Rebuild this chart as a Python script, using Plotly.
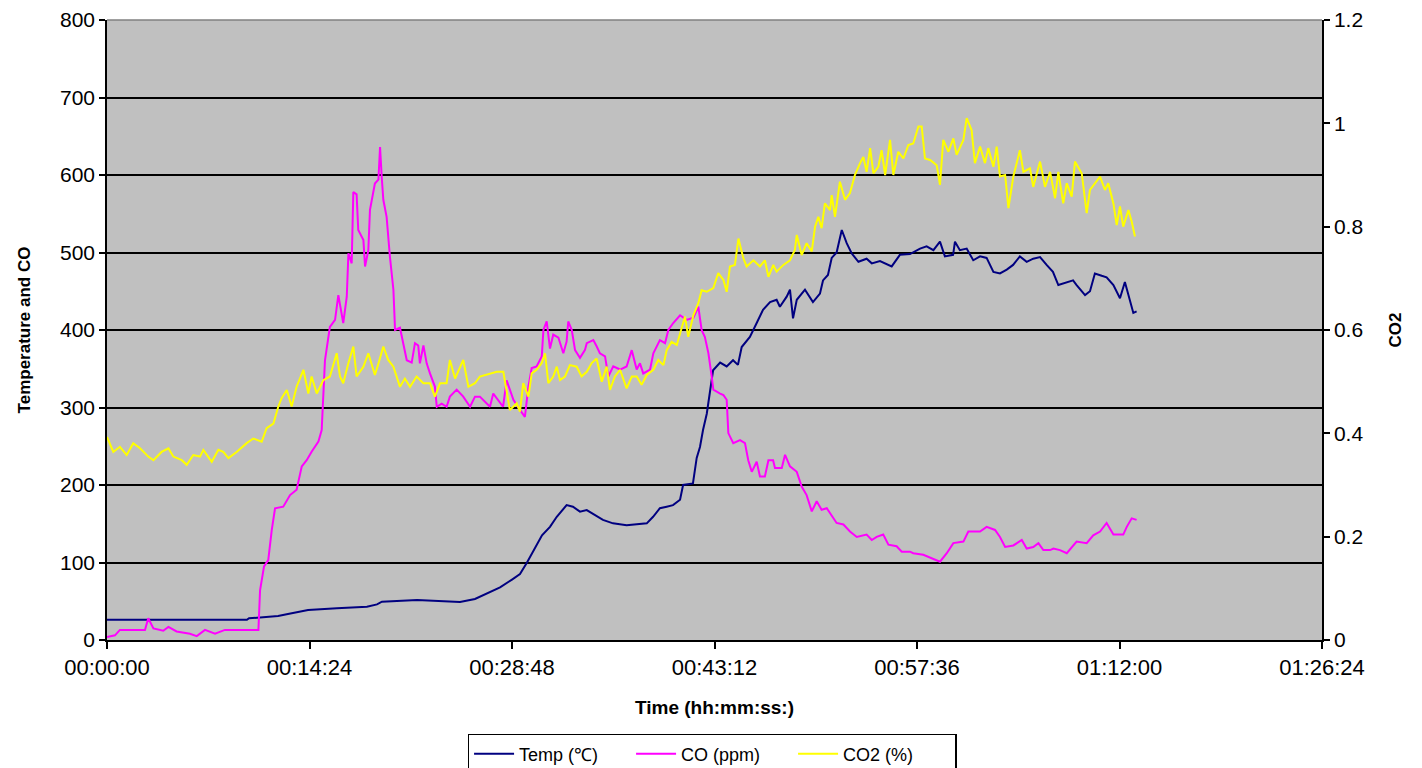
import plotly.graph_objects as go

# ---------------- data (time in seconds) ----------------
temp_t = [0, 597, 606, 730, 772, 815, 858, 981, 1109, 1152, 1173, 1323, 1421, 1506, 1570, 1634, 1677,
          1728, 1762, 1792, 1826, 1856, 1890, 1919, 1961, 1988, 2018, 2047, 2116, 2159, 2217, 2303,
          2330, 2359, 2388, 2415, 2445, 2458, 2500, 2516, 2530, 2543, 2559, 2573, 2586, 2616, 2644,
          2671, 2692, 2708, 2743, 2772, 2799, 2829, 2857, 2871, 2900, 2914, 2927, 2943, 2978, 3012,
          3042, 3055, 3076, 3092, 3113, 3135, 3156, 3177, 3206, 3241, 3263, 3298, 3348, 3383, 3426,
          3469, 3497, 3526, 3554, 3575, 3610, 3618, 3639, 3668, 3696, 3725, 3753, 3782, 3810, 3839,
          3866, 3895, 3924, 3952, 3981, 4009, 4036, 4059, 4095, 4122, 4137, 4173, 4194, 4215, 4244,
          4265, 4294, 4322, 4343, 4365, 4379, 4393]
temp_v = [26, 26, 28, 31, 33.5, 36.6, 38.7, 41, 43, 46, 49.5, 51.6, 50, 49, 53, 62, 68,
          78, 85, 100, 118, 135, 146, 159, 174, 172, 165.6, 167.7, 155, 150.5, 148, 150.5,
          159, 170, 172, 174, 181, 200, 202, 235, 249, 271, 292, 325, 348, 358, 353,
          361, 355, 378, 391, 409, 426, 436, 439, 430, 443, 452, 415, 439, 452, 436,
          447, 464, 471, 493, 500, 529, 512, 499, 488, 492, 486, 489, 482, 497, 498,
          505, 508, 503, 514, 495, 497, 514, 503, 505, 490, 495, 493, 475, 473, 478,
          484, 495, 488, 492, 494, 484, 475, 458, 461, 464, 458, 445, 450, 473, 470,
          468, 458, 441, 462, 439, 422, 424]

co_t = [0, 34, 55, 162, 176, 198, 240, 262, 297, 354, 383, 418, 461, 503, 646, 653, 670, 688, 703,
        717, 752, 781, 809, 831, 852, 873, 902, 916, 930, 951, 973, 987, 1008, 1023, 1030, 1044,
        1051, 1065, 1072, 1094, 1101, 1115, 1122, 1143, 1158, 1165, 1172, 1179, 1193, 1207, 1222,
        1229, 1250, 1264, 1279, 1300, 1314, 1328, 1335, 1350, 1364, 1378, 1399, 1407, 1428, 1449,
        1463, 1492, 1520, 1549, 1570, 1591, 1634, 1648, 1690, 1705, 1734, 1762, 1783, 1798, 1812,
        1833, 1855, 1862, 1876, 1890, 1904, 1926, 1947, 1961, 1968, 1983, 1997, 2018, 2039, 2047,
        2075, 2089, 2103, 2125, 2139, 2160, 2189, 2217, 2239, 2260, 2274, 2288, 2317, 2331, 2359,
        2381, 2395, 2416, 2445, 2473, 2502, 2523, 2537, 2551, 2566, 2580, 2587, 2616, 2630, 2644,
        2651, 2672, 2701, 2722, 2736, 2751, 2772, 2786, 2807, 2822, 2842, 2850, 2879, 2893, 2914,
        2943, 2964, 2985, 3007, 3028, 3049, 3071, 3092, 3113, 3142, 3170, 3199, 3220, 3241, 3263,
        3284, 3312, 3334, 3369, 3391, 3426, 3440, 3483, 3526, 3554, 3583, 3611, 3654, 3675, 3725,
        3753, 3789, 3810, 3832, 3867, 3903, 3924, 3952, 3974, 3995, 4024, 4038, 4066, 4095, 4116,
        4137, 4180, 4208, 4237, 4265, 4294, 4336, 4351, 4372, 4393]
co_v = [4, 6, 13, 13, 28, 15, 12, 17, 11, 8, 5, 13, 8, 13, 13, 64, 95, 103, 142,
        170, 172, 187, 194, 224, 232, 243, 256, 271, 361, 404, 413, 445, 409, 443, 499, 486,
        578, 575, 529, 516, 482, 503, 555, 589, 594, 636, 598, 568, 546, 495, 452,
        400, 403, 383, 361, 358, 383, 380, 357, 380, 357, 344, 327, 301, 305, 301,
        314, 323, 314, 301, 314, 314, 301, 318, 301, 335, 310, 297, 288, 327, 351,
        353, 366, 400, 411, 376, 394, 390, 370, 385, 411, 400, 374, 364, 374, 383,
        387, 379, 370, 366, 340, 353, 349, 353, 374, 349, 357, 344, 349, 370, 387,
        383, 400, 409, 419, 413, 416, 430, 400, 391, 370, 340, 323, 318, 316, 310,
        267, 254, 258, 254, 232, 217, 230, 211, 211, 232, 232, 222, 222, 239, 224,
        217, 198, 187, 166, 179, 168, 170, 161, 151, 149, 140, 133, 135, 136, 129,
        133, 136, 123, 121, 114, 114, 112, 110, 105, 101, 112, 125, 127, 140, 140,
        146, 142, 133, 120, 122, 129, 118, 120, 125, 116, 116, 118, 116, 112, 120,
        127, 125, 135, 140, 151, 136, 136, 146, 157, 155]

co2_t = [0, 27, 55, 84, 112, 141, 176, 198, 233, 262, 283, 319, 340, 368, 397, 411, 447, 475, 496,
         518, 553, 596, 624, 660, 681, 710, 731, 745, 767, 788, 809, 838, 859, 873, 895, 923, 951,
         980, 994, 1008, 1030, 1051, 1065, 1094, 1115, 1143, 1158, 1179, 1200, 1222, 1250, 1271,
         1293, 1321, 1350, 1378, 1399, 1421, 1449, 1463, 1485, 1520, 1542, 1570, 1591, 1634, 1663,
         1691, 1705, 1719, 1748, 1762, 1776, 1798, 1812, 1833, 1855, 1869, 1883, 1904, 1919, 1933,
         1954, 1975, 2004, 2025, 2047, 2068, 2089, 2111, 2132, 2146, 2167, 2189, 2217, 2239, 2260,
         2281, 2303, 2331, 2352, 2374, 2388, 2409, 2431, 2452, 2466, 2480, 2502, 2523, 2537, 2559,
         2587, 2608, 2630, 2644, 2658, 2679, 2694, 2715, 2729, 2758, 2786, 2807, 2822, 2843, 2857,
         2886, 2914, 2935, 2943, 2964, 2985, 3007, 3021, 3035, 3049, 3063, 3085, 3092, 3106, 3127,
         3149, 3170, 3191, 3213, 3227, 3241, 3256, 3270, 3291, 3305, 3320, 3341, 3355, 3376, 3398,
         3419, 3440, 3462, 3476, 3490, 3512, 3540, 3554, 3568, 3590, 3611, 3625, 3654, 3668, 3689,
         3703, 3725, 3746, 3760, 3782, 3796, 3810, 3832, 3846, 3867, 3895, 3910, 3938, 3952, 3981,
         4002, 4024, 4045, 4059, 4080, 4095, 4116, 4130, 4159, 4180, 4194, 4215, 4237, 4258, 4272,
         4294, 4308, 4322, 4336, 4358, 4372, 4386]
co2_v = [0.393, 0.364, 0.374, 0.358, 0.381, 0.371, 0.355, 0.348, 0.364, 0.371, 0.355, 0.348, 0.339,
         0.358, 0.355, 0.368, 0.345, 0.368, 0.364, 0.352, 0.364, 0.381, 0.39, 0.384, 0.41, 0.419,
         0.452, 0.468, 0.484, 0.452, 0.49, 0.523, 0.477, 0.51, 0.477, 0.503, 0.51, 0.555, 0.51,
         0.497, 0.536, 0.568, 0.51, 0.529, 0.555, 0.513, 0.535, 0.568, 0.542, 0.529, 0.49, 0.506,
         0.49, 0.51, 0.497, 0.497, 0.471, 0.497, 0.497, 0.542, 0.506, 0.542, 0.49, 0.497, 0.51,
         0.516, 0.519, 0.519, 0.484, 0.445, 0.458, 0.442, 0.497, 0.471, 0.516, 0.523, 0.536, 0.555,
         0.497, 0.51, 0.529, 0.503, 0.51, 0.532, 0.529, 0.51, 0.519, 0.536, 0.545, 0.5, 0.529,
         0.484, 0.51, 0.523, 0.487, 0.51, 0.51, 0.494, 0.513, 0.523, 0.542, 0.532, 0.561, 0.577,
         0.571, 0.606, 0.626, 0.587, 0.629, 0.652, 0.677, 0.674, 0.681, 0.71, 0.697, 0.674, 0.723,
         0.726, 0.777, 0.739, 0.723, 0.735, 0.723, 0.735, 0.703, 0.726, 0.713, 0.726, 0.735, 0.755,
         0.784, 0.745, 0.768, 0.752, 0.8, 0.819, 0.797, 0.845, 0.832, 0.861, 0.819, 0.887, 0.852,
         0.865, 0.9, 0.923, 0.935, 0.906, 0.952, 0.903, 0.916, 0.948, 0.9, 0.968, 0.9, 0.945, 0.932,
         0.958, 0.961, 0.994, 0.994, 0.932, 0.929, 0.919, 0.881, 0.968, 0.945, 0.971, 0.939, 0.968,
         1.01, 0.987, 0.923, 0.955, 0.923, 0.952, 0.916, 0.955, 0.897, 0.9, 0.836, 0.897, 0.948,
         0.906, 0.913, 0.877, 0.926, 0.877, 0.906, 0.855, 0.906, 0.845, 0.884, 0.858, 0.926, 0.903,
         0.826, 0.871, 0.884, 0.897, 0.871, 0.884, 0.845, 0.803, 0.839, 0.8, 0.832, 0.81, 0.781]

x_tickvals = [0, 864, 1728, 2592, 3456, 4320, 5184]
x_ticktext = ["00:00:00", "00:14:24", "00:28:48", "00:43:12", "00:57:36", "01:12:00", "01:26:24"]
y_tickvals = [0, 100, 200, 300, 400, 500, 600, 700, 800]
y2_tickvals = [0, 0.2, 0.4, 0.6, 0.8, 1.0, 1.2]
y2_ticktext = ["0", "0.2", "0.4", "0.6", "0.8", "1", "1.2"]

FONT = "Liberation Sans, Arial, sans-serif"

fig = go.Figure()
fig.add_trace(go.Scatter(x=temp_t, y=temp_v, mode="lines", name="Temp (\u2103)",
                         line=dict(color="#000080", width=2)))
fig.add_trace(go.Scatter(x=co_t, y=co_v, mode="lines", name="CO (ppm)",
                         line=dict(color="#FF00FF", width=2)))
fig.add_trace(go.Scatter(x=co2_t, y=co2_v, mode="lines", name="CO2 (%)", yaxis="y2",
                         line=dict(color="#FFFF00", width=2)))

fig.update_layout(
    width=1422, height=768,
    margin=dict(l=99, r=108, t=12, b=136, autoexpand=False),
    paper_bgcolor="white",
    plot_bgcolor="#C0C0C0",
    font=dict(family=FONT, color="black"),
    xaxis=dict(
        range=[0, 5184], tickvals=x_tickvals, ticktext=x_ticktext, automargin=False,
        tickfont=dict(size=22), ticks="outside", ticklen=7, tickcolor="black", tickwidth=1.5,
        showline=True, linecolor="black", linewidth=1.5, showgrid=False, zeroline=False,
        title=dict(text="<b>Time (hh:mm:ss:)</b>", font=dict(size=19), standoff=22),
    ),
    yaxis=dict(
        range=[0, 800], tickvals=y_tickvals, automargin=False,
        tickfont=dict(size=21), ticks="outside", ticklen=6, tickcolor="black", tickwidth=1.5,
        showline=True, linecolor="black", linewidth=1.5,
        showgrid=True, gridcolor="black", gridwidth=1.5, zeroline=False,
        title=dict(text="<b>Temperature and CO</b>", font=dict(size=17), standoff=25),
    ),
    yaxis2=dict(
        range=[0, 1.2], tickvals=y2_tickvals, ticktext=y2_ticktext, overlaying="y", side="right",
        automargin=False,
        tickfont=dict(size=21), ticks="outside", ticklen=6, tickcolor="black", tickwidth=1.5,
        showline=True, linecolor="black", linewidth=1.5, showgrid=False, zeroline=False,
        title=dict(text="<b>CO2</b>", font=dict(size=17), standoff=27),
    ),
    legend=dict(
        orientation="h", x=0.498, xanchor="center", y=-0.1516, yanchor="top",
        bgcolor="white", bordercolor="black", borderwidth=1.5,
        font=dict(size=18), itemwidth=40, tracegroupgap=0, entrywidth=107,
    ),
    showlegend=True,
    shapes=[dict(type="line", xref="paper", yref="paper", x0=0, x1=1, y0=1, y1=1,
                 line=dict(color="#808080", width=1.5), layer="above")],
)

fig.write_html("out.html")
